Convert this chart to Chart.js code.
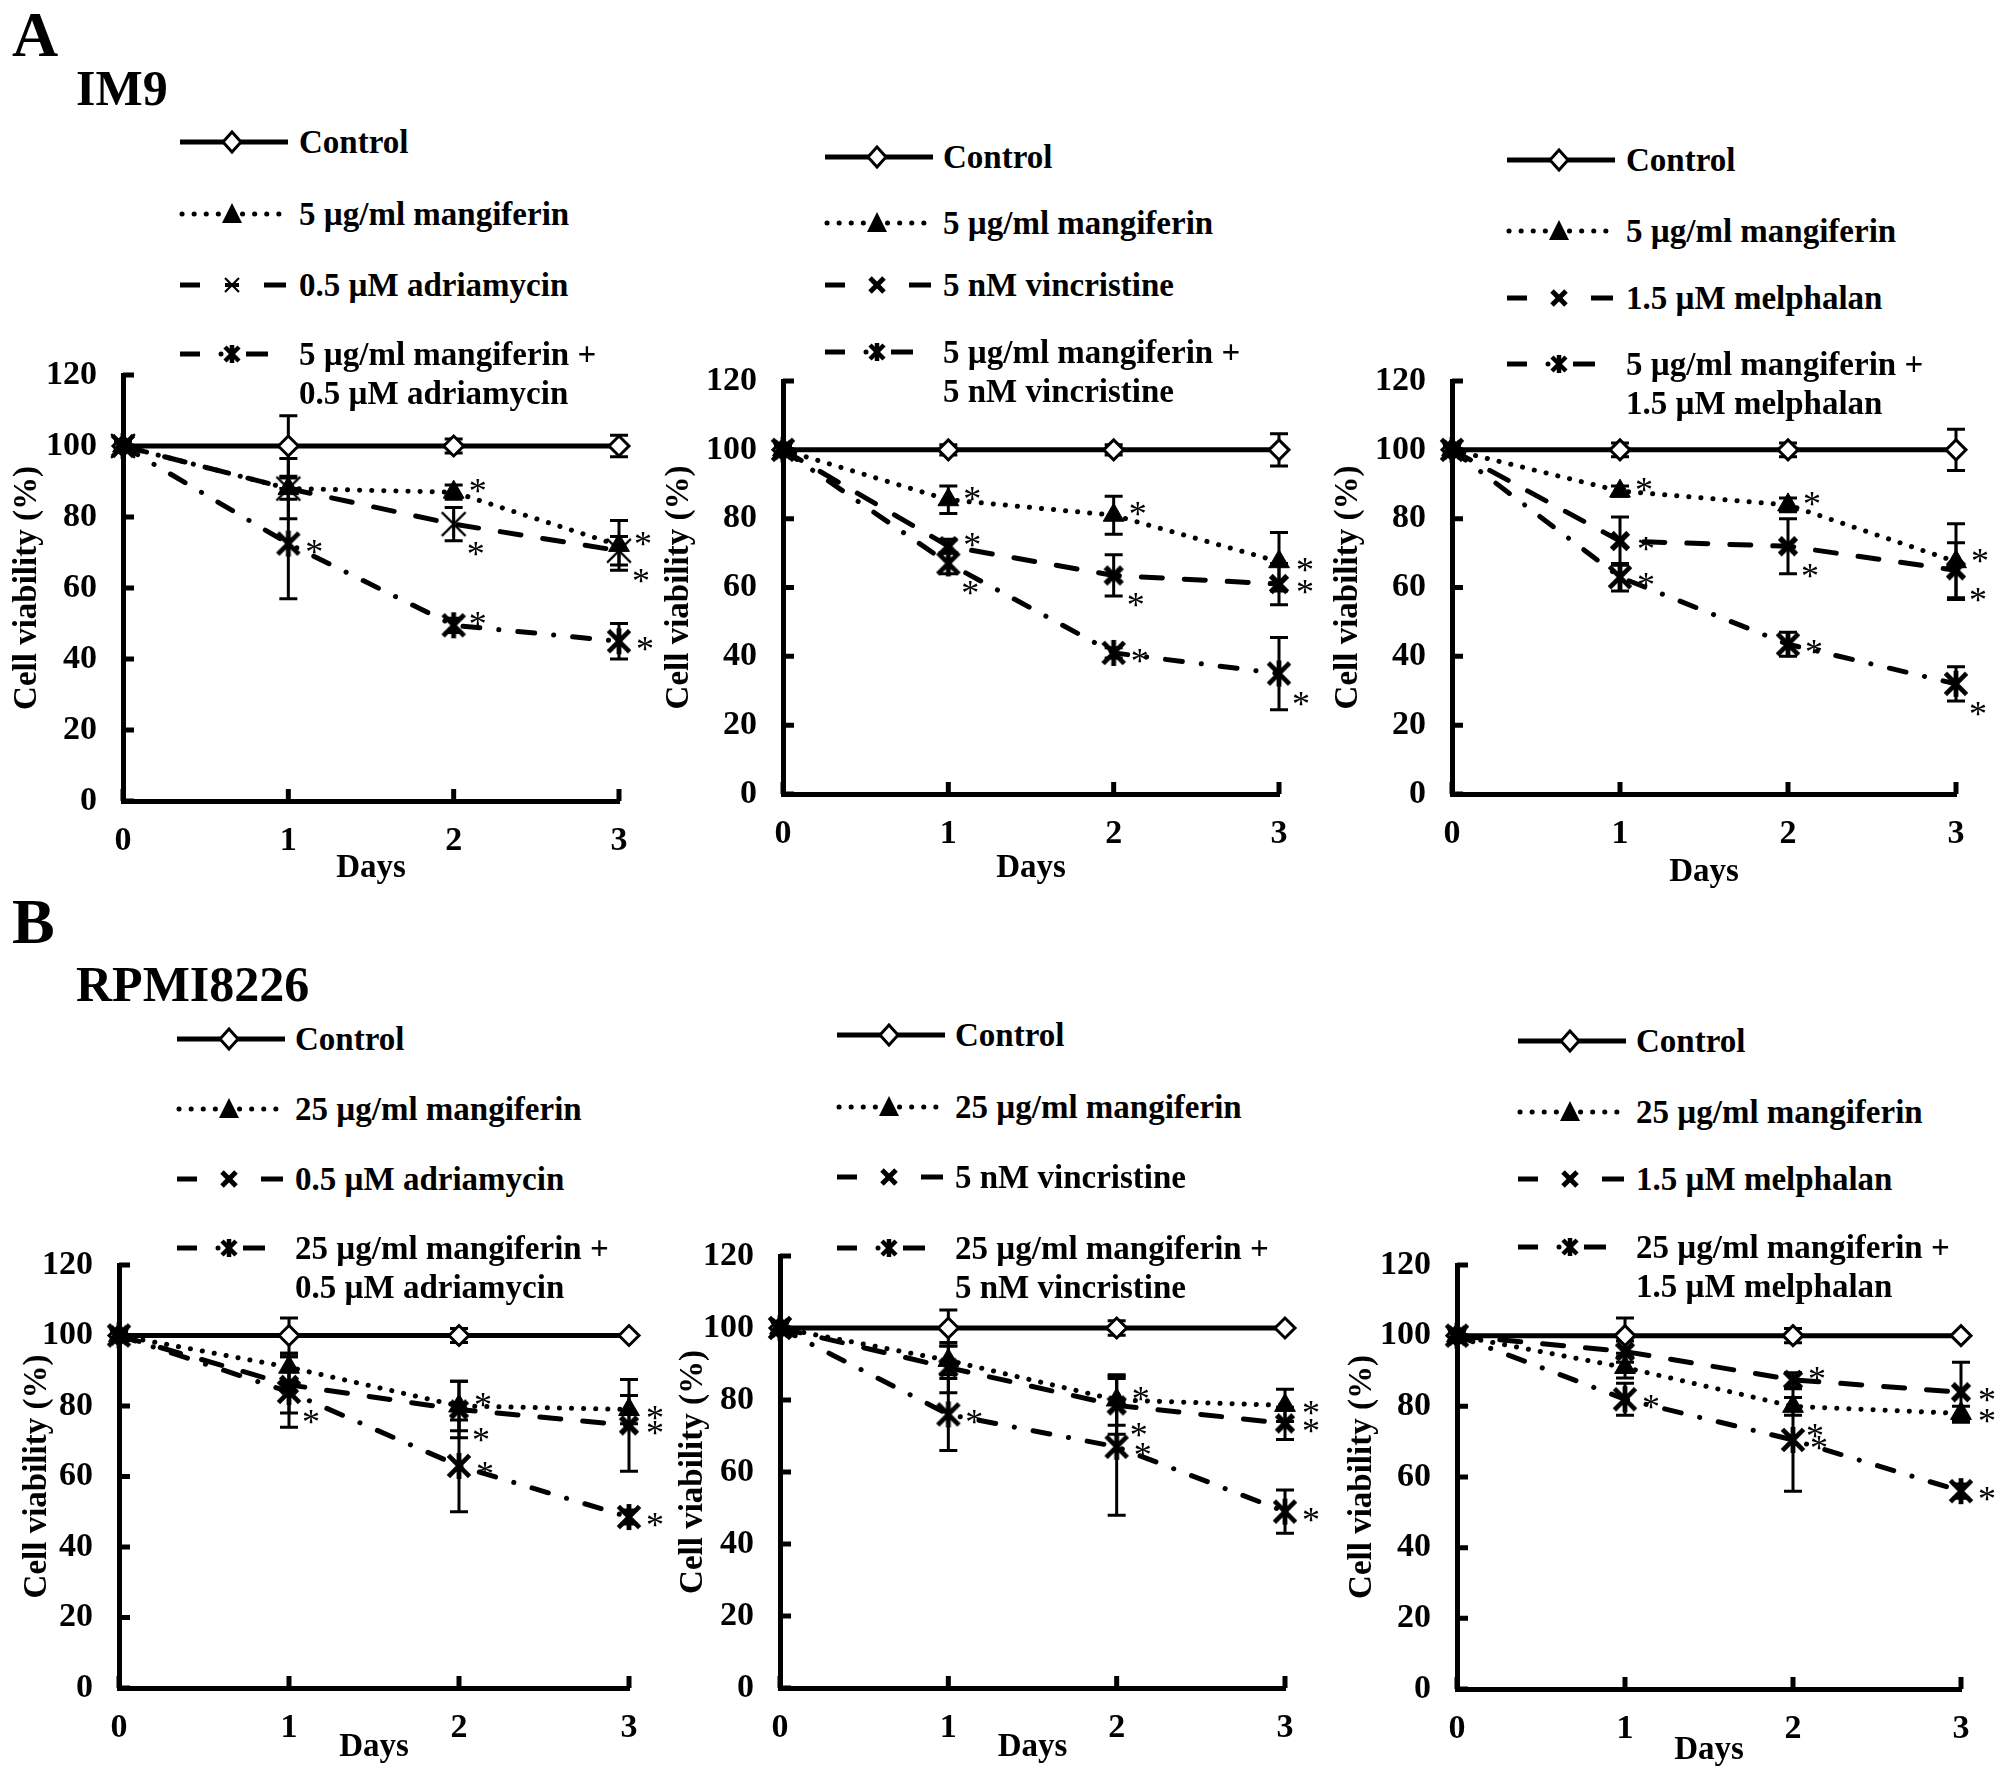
<!DOCTYPE html>
<html><head><meta charset="utf-8">
<script src="https://cdn.jsdelivr.net/npm/chart.js@4.4.1/dist/chart.umd.min.js"></script>
<style>
html,body{margin:0;padding:0;background:#fff;}
body{width:2008px;height:1778px;position:relative;overflow:hidden;font-family:"Liberation Serif","Times New Roman",serif;font-weight:bold;color:#000;}
.lbl{position:absolute;line-height:1;white-space:nowrap;}
.panel{position:absolute;}
.leg{position:absolute;white-space:nowrap;font-size:33px;line-height:39px;}
.samp{position:absolute;overflow:visible;}
</style></head><body>
<script>
// ---------- shared axes ----------
const days = [0, 1, 2, 3];
const xTickLabels = ['0', '1', '2', '3'];
const yTickValues = [0, 20, 40, 60, 80, 100, 120];
const sectionTitles = ['A', 'IM9', 'B', 'RPMI8226'];

// ---------- A: IM9 + adriamycin ----------
const a1Ctrl = [100, 100, 100, 100];
const a1CtrlErr = [1.5, 8.5, 2, 3];
const a1Mang = [100, 88, 87, 72];
const a1MangErr = [1.5, 3, 2, 7];
const a1Drug = [100, 88, 78, 70.5];
const a1DrugErr = [1.5, 8.5, 4.7, 4];
const a1Combo = [100, 72.5, 49.5, 45];
const a1ComboErr = [1.5, 15.5, 2, 5];
const a1MangStar = ['', '', 'ur', 'ur'];
const a1DrugStar = ['', '', 'dr', 'dr'];
const a1ComboStar = ['', 'r', 'ur', 'r'];
const a1Labels = ['Control', '5 µg/ml mangiferin', '0.5 µM adriamycin', '5 µg/ml mangiferin +', '0.5 µM adriamycin'];

// ---------- A: IM9 + vincristine ----------
const a2Ctrl = [100, 100, 100, 100];
const a2CtrlErr = [1.5, 1.5, 1.5, 4.7];
const a2Mang = [100, 85.5, 81, 67.5];
const a2MangErr = [1.5, 4, 5.5, 8.5];
const a2Drug = [100, 72, 63.5, 61];
const a2DrugErr = [1.5, 2, 6, 6];
const a2Combo = [100, 67, 41, 35];
const a2ComboErr = [1.5, 3, 1.5, 10.5];
const a2MangStar = ['', 'ur', 'ur', 'r'];
const a2DrugStar = ['', 'ur', 'dr', 'r'];
const a2ComboStar = ['', 'dr', 'r', 'dr'];
const a2Labels = ['Control', '5 µg/ml mangiferin', '5 nM vincristine', '5 µg/ml mangiferin +', '5 nM vincristine'];

// ---------- A: IM9 + melphalan ----------
const a3Ctrl = [100, 100, 100, 100];
const a3CtrlErr = [1.5, 2, 2, 6];
const a3Mang = [100, 88, 84, 67.5];
const a3MangErr = [1.5, 1.5, 2, 11];
const a3Drug = [100, 73.5, 72, 65];
const a3DrugErr = [1.5, 7, 8, 8];
const a3Combo = [100, 63, 43.5, 32];
const a3ComboErr = [1.5, 4, 3.5, 5];
const a3MangStar = ['', 'ur', 'ur', 'ur'];
const a3DrugStar = ['', 'r', 'dr', 'dr'];
const a3ComboStar = ['', 'r', 'r', 'dr'];
const a3Labels = ['Control', '5 µg/ml mangiferin', '1.5 µM melphalan', '5 µg/ml mangiferin +', '1.5 µM melphalan'];

// ---------- B: RPMI8226 + adriamycin ----------
const b1Ctrl = [100, 100, 100, 100];
const b1CtrlErr = [1.5, 5, 2, 0.5];
const b1Mang = [100, 91, 80, 79];
const b1MangErr = [1.5, 4, 7, 4];
const b1Drug = [100, 86, 79, 74.5];
const b1DrugErr = [1.5, 8, 8, 13];
const b1Combo = [100, 84, 63, 48.5];
const b1ComboErr = [1.5, 10, 13, 2];
const b1MangStar = ['', '', 'ur', 'r'];
const b1DrugStar = ['', '', 'dr', 'r'];
const b1ComboStar = ['', 'dr', 'r', 'r'];
const b1Labels = ['Control', '25 µg/ml mangiferin', '0.5 µM adriamycin', '25 µg/ml mangiferin +', '0.5 µM adriamycin'];

// ---------- B: RPMI8226 + vincristine ----------
const b2Ctrl = [100, 100, 100, 100];
const b2CtrlErr = [1.5, 5, 2, 0.5];
const b2Mang = [100, 91, 80, 78.5];
const b2MangErr = [1.5, 4, 7, 4.5];
const b2Drug = [100, 89, 78.5, 73.5];
const b2DrugErr = [1.5, 7, 8, 4.5];
const b2Combo = [100, 76, 67, 49];
const b2ComboErr = [1.5, 10, 19, 6];
const b2MangStar = ['', '', 'ur', 'r'];
const b2DrugStar = ['', '', 'dr', 'r'];
const b2ComboStar = ['', 'r', 'r', 'r'];
const b2Labels = ['Control', '25 µg/ml mangiferin', '5 nM vincristine', '25 µg/ml mangiferin +', '5 nM vincristine'];

// ---------- B: RPMI8226 + melphalan ----------
const b3Ctrl = [100, 100, 100, 100];
const b3CtrlErr = [1.5, 5, 2, 0.5];
const b3Mang = [100, 91, 80, 78];
const b3MangErr = [1.5, 3, 2.5, 2];
const b3Drug = [100, 95.5, 87.5, 84];
const b3DrugErr = [1.5, 3, 2, 8.5];
const b3Combo = [100, 82, 70.5, 56];
const b3ComboErr = [1.5, 4.5, 14.5, 2];
const b3MangStar = ['', '', 'dr', 'r'];
const b3DrugStar = ['', '', 'ur', 'r'];
const b3ComboStar = ['', 'r', 'r', 'r'];
const b3Labels = ['Control', '25 µg/ml mangiferin', '1.5 µM melphalan', '25 µg/ml mangiferin +', '1.5 µM melphalan'];

// ---------- layout (positions only) ----------
const FONT = '"Liberation Serif", "Times New Roman", serif';
const Y_W = 130, X_H = 100, PAD_T = 60, PAD_R = 60;
const panels = [
  {d:[a1Ctrl,a1CtrlErr,a1Mang,a1MangErr,a1Drug,a1DrugErr,a1Combo,a1ComboErr], s:[a1MangStar,a1DrugStar,a1ComboStar], labels:a1Labels, thinDrug:true,
   x0:123, x3:619, y120:375, y0:801, ytx:96, xty:67, legX:180, txtX:299, rows:[142,214,285,354]},
  {d:[a2Ctrl,a2CtrlErr,a2Mang,a2MangErr,a2Drug,a2DrugErr,a2Combo,a2ComboErr], s:[a2MangStar,a2DrugStar,a2ComboStar], labels:a2Labels,
   x0:783, x3:1279, y120:381, y0:794, ytx:104, xty:74, legX:825, txtX:943, rows:[157,223,285,352]},
  {d:[a3Ctrl,a3CtrlErr,a3Mang,a3MangErr,a3Drug,a3DrugErr,a3Combo,a3ComboErr], s:[a3MangStar,a3DrugStar,a3ComboStar], labels:a3Labels,
   x0:1452, x3:1956, y120:381, y0:794, ytx:104, xty:78, legX:1507, txtX:1626, rows:[160,231,298,364]},
  {d:[b1Ctrl,b1CtrlErr,b1Mang,b1MangErr,b1Drug,b1DrugErr,b1Combo,b1ComboErr], s:[b1MangStar,b1DrugStar,b1ComboStar], labels:b1Labels,
   x0:119, x3:629, y120:1265, y0:1688, ytx:82, xty:59, legX:177, txtX:295, rows:[1039,1109,1179,1248]},
  {d:[b2Ctrl,b2CtrlErr,b2Mang,b2MangErr,b2Drug,b2DrugErr,b2Combo,b2ComboErr], s:[b2MangStar,b2DrugStar,b2ComboStar], labels:b2Labels,
   x0:780, x3:1285, y120:1256, y0:1688, ytx:87, xty:59, legX:837, txtX:955, rows:[1035,1107,1177,1248]},
  {d:[b3Ctrl,b3CtrlErr,b3Mang,b3MangErr,b3Drug,b3DrugErr,b3Combo,b3ComboErr], s:[b3MangStar,b3DrugStar,b3ComboStar], labels:b3Labels,
   x0:1457, x3:1961, y120:1265, y0:1689, ytx:95, xty:61, legX:1518, txtX:1636, rows:[1041,1112,1179,1247]}
];
const titlePos = [
  {left:12, top:3, size:64}, {left:76, top:63, size:50},
  {left:12, top:890, size:64}, {left:76, top:959, size:50}
];

// ---------- section titles ----------
sectionTitles.forEach((t, i) => {
  const d = document.createElement('div');
  d.className = 'lbl';
  d.textContent = t;
  d.style.left = titlePos[i].left + 'px';
  d.style.top = titlePos[i].top + 'px';
  d.style.fontSize = titlePos[i].size + 'px';
  document.body.appendChild(d);
});

// ---------- marker images ----------
function mkStar(size, lw, vertical) {
  const c = document.createElement('canvas');
  c.width = size; c.height = size;
  const g = c.getContext('2d');
  g.strokeStyle = '#000'; g.lineWidth = lw;
  const m = lw / 2 + 1, s = size;
  g.beginPath();
  g.moveTo(m, m); g.lineTo(s - m, s - m);
  g.moveTo(s - m, m); g.lineTo(m, s - m);
  if (vertical) { g.moveTo(s / 2, 1); g.lineTo(s / 2, s - 1); }
  g.stroke();
  return c;
}
const comboMarker = mkStar(28, 4.8, true);
const boldX = mkStar(24, 5.5, false);
const thinStar = mkStar(28, 2.2, true);

// ---------- legend samples ----------
function sampleSVG(kind, thin) {
  const L = (x1, x2, extra) => `<line x1="${x1}" y1="15" x2="${x2}" y2="15" stroke="#000" stroke-width="5" ${extra || ''}/>`;
  const X = (cx, w, vert) => `<g stroke="#000" stroke-width="${w}"><line x1="${cx-7}" y1="8" x2="${cx+7}" y2="22"/><line x1="${cx+7}" y1="8" x2="${cx-7}" y2="22"/>${vert ? `<line x1="${cx}" y1="6" x2="${cx}" y2="24"/>` : ''}</g>`;
  let inner = '';
  if (kind === 0) {
    inner = L(0, 108) + `<polygon points="52,5 61,15 52,25 43,15" fill="#fff" stroke="#000" stroke-width="3"/>`;
  } else if (kind === 1) {
    inner = L(2, 106, 'stroke-dasharray="0.1 12" stroke-linecap="round"') + `<polygon points="52,4 62,24 42,24" fill="#000"/>`;
  } else if (kind === 2) {
    inner = L(0, 20) + L(84, 106) + (thin ? X(52, 2.2, false) + `<line x1="45" y1="15" x2="59" y2="15" stroke="#000" stroke-width="4"/>` : X(52, 5, false));
  } else {
    inner = L(0, 20) + L(66, 88) + X(52, 4.5, true) + `<circle cx="41" cy="15" r="2.5" fill="#000"/>`;
  }
  return inner;
}

// ---------- plugins ----------
const errPlugin = {
  id: 'errbars',
  beforeDatasetsDraw(chart) {
    const ctx = chart.ctx, xs = chart.scales.x, ys = chart.scales.y;
    ctx.save();
    ctx.strokeStyle = '#000'; ctx.lineWidth = 3; ctx.setLineDash([]);
    chart.data.datasets.forEach(ds => {
      ds.data.forEach((p, j) => {
        const e = ds.errs[j]; if (!e) return;
        const x = xs.getPixelForValue(p.x);
        const yt = ys.getPixelForValue(p.y + e), yb = ys.getPixelForValue(p.y - e);
        ctx.beginPath();
        ctx.moveTo(x, yt); ctx.lineTo(x, yb);
        ctx.moveTo(x - 9, yt); ctx.lineTo(x + 9, yt);
        ctx.moveTo(x - 9, yb); ctx.lineTo(x + 9, yb);
        ctx.stroke();
      });
    });
    ctx.restore();
  }
};
const starOff = { ur: [24, -9], r: [26, 0], dr: [22, 22] };
const starPlugin = {
  id: 'stars',
  afterDatasetsDraw(chart) {
    const ctx = chart.ctx, xs = chart.scales.x, ys = chart.scales.y;
    ctx.save();
    ctx.fillStyle = '#000';
    ctx.font = '36px ' + FONT;
    ctx.textAlign = 'center'; ctx.textBaseline = 'alphabetic';
    chart.data.datasets.forEach(ds => {
      if (!ds.stars) return;
      ds.data.forEach((p, j) => {
        const k = ds.stars[j]; if (!k) return;
        const o = starOff[k];
        const x = xs.getPixelForValue(p.x) + o[0];
        const y = ys.getPixelForValue(p.y) + o[1];
        ctx.fillText('*', x, y + 20);
      });
    });
    ctx.restore();
  }
};
const tickPlugin = {
  id: 'inticks',
  afterDraw(chart) {
    const ctx = chart.ctx, xs = chart.scales.x, ys = chart.scales.y;
    const a = chart.chartArea;
    ctx.save();
    ctx.strokeStyle = '#000'; ctx.lineWidth = 5; ctx.setLineDash([]);
    ctx.beginPath();
    yTickValues.forEach(v => {
      const y = ys.getPixelForValue(v);
      ctx.moveTo(a.left, y); ctx.lineTo(a.left + 11, y);
    });
    days.forEach(v => {
      const x = xs.getPixelForValue(v);
      ctx.moveTo(x, a.bottom); ctx.lineTo(x, a.bottom - 12);
    });
    ctx.stroke();
    ctx.restore();
  }
};

// ---------- build panels ----------
panels.forEach(P => {
  const W = P.x3 - P.x0 + Y_W + PAD_R;
  const H = P.y0 - P.y120 + PAD_T + X_H;
  const div = document.createElement('div');
  div.className = 'panel';
  div.style.left = (P.x0 - Y_W) + 'px';
  div.style.top = (P.y120 - PAD_T) + 'px';
  div.style.width = W + 'px'; div.style.height = H + 'px';
  const cv = document.createElement('canvas');
  cv.width = W; cv.height = H;
  cv.style.width = W + 'px'; cv.style.height = H + 'px';
  div.appendChild(cv);
  document.body.appendChild(div);

  const [ctrl, ctrlE, mang, mangE, drug, drugE, combo, comboE] = P.d;
  const pts = arr => days.map((d, i) => ({ x: d, y: arr[i] }));
  const base = { borderColor: '#000', borderWidth: 5, tension: 0, fill: false, clip: false, pointBorderColor: '#000' };
  const datasets = [
    Object.assign({}, base, { label: P.labels[0], data: pts(ctrl), errs: ctrlE, stars: null, order: 4,
      pointStyle: 'rectRot', pointRadius: 10, pointBorderWidth: 3, pointBackgroundColor: '#fff' }),
    Object.assign({}, base, { label: P.labels[1], data: pts(mang), errs: mangE, stars: P.s[0], order: 3,
      borderDash: [0.1, 12], borderCapStyle: 'round', pointStyle: 'triangle', pointRadius: 12, pointBorderWidth: 1, pointBackgroundColor: '#000' }),
    Object.assign({}, base, { label: P.labels[2], data: pts(drug), errs: drugE, stars: P.s[1], order: 2,
      borderDash: [21, 22], borderCapStyle: 'round', pointStyle: P.thinDrug ? thinStar : boldX, pointRadius: 12, pointBackgroundColor: '#000' }),
    Object.assign({}, base, { label: P.labels[3] + ' ' + P.labels[4], data: pts(combo), errs: comboE, stars: P.s[2], order: 1,
      borderDash: [17, 19, 0.1, 19], borderCapStyle: 'round', pointStyle: comboMarker, pointRadius: 13, pointBackgroundColor: '#000' })
  ];
  const tickFont = { family: FONT, size: 34, weight: 'bold' };
  new Chart(cv, {
    type: 'line',
    data: { datasets },
    plugins: [errPlugin, starPlugin, tickPlugin],
    options: {
      responsive: false, animation: false, devicePixelRatio: 1,
      layout: { padding: { left: 0, top: PAD_T, right: PAD_R, bottom: 0 } },
      plugins: { legend: { display: false }, tooltip: { enabled: false } },
      scales: {
        x: {
          type: 'linear', min: 0, max: 3,
          afterBuildTicks: s => { s.ticks = days.map(v => ({ value: v })); },
          afterFit: s => { s.height = X_H; },
          grid: { display: false, drawTicks: false },
          border: { display: true, color: '#000', width: 5 },
          ticks: { color: '#000', font: tickFont, padding: 20, maxRotation: 0, autoSkip: false,
            callback: (v, i) => xTickLabels[i] },
          title: { display: true, text: 'Days', color: '#000', font: { family: FONT, size: 33, weight: 'bold' },
            padding: { top: 0, bottom: X_H - P.xty - 19.8 } }
        },
        y: {
          min: 0, max: 120,
          afterBuildTicks: s => { s.ticks = yTickValues.map(v => ({ value: v })); },
          afterFit: s => { s.width = Y_W; },
          grid: { display: false, drawTicks: false },
          border: { display: true, color: '#000', width: 5 },
          ticks: { color: '#000', font: tickFont, padding: 26 },
          title: { display: true, text: 'Cell viability (%)', color: '#000', font: { family: FONT, size: 33, weight: 'bold' },
            padding: { top: Y_W - P.ytx - 19.8, bottom: 0 } }
        }
      }
    }
  });

  // legend (HTML text + SVG line samples)
  P.rows.forEach((ry, i) => {
    const svg = document.createElementNS('http://www.w3.org/2000/svg', 'svg');
    svg.setAttribute('width', '110'); svg.setAttribute('height', '30');
    svg.setAttribute('class', 'samp');
    svg.style.left = P.legX + 'px'; svg.style.top = (ry - 15) + 'px';
    svg.innerHTML = sampleSVG(i, P.thinDrug);
    document.body.appendChild(svg);
    const t = document.createElement('div');
    t.className = 'leg';
    t.style.left = P.txtX + 'px'; t.style.top = (ry - 19.5) + 'px';
    if (i < 3) t.textContent = P.labels[i];
    else t.innerHTML = P.labels[3] + '<br>' + P.labels[4];
    document.body.appendChild(t);
  });
});
</script>
</body></html>
